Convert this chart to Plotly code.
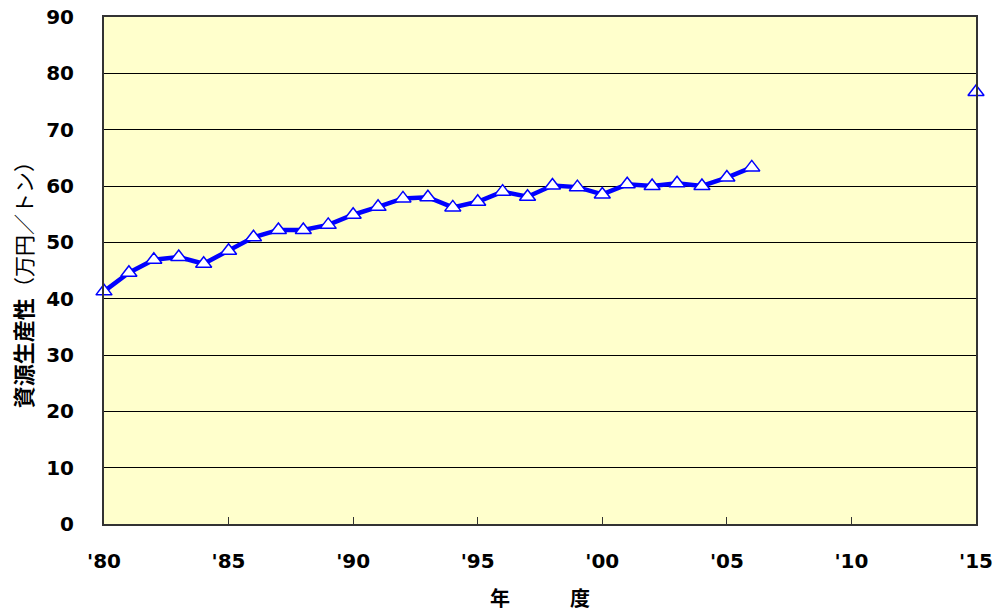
import plotly.graph_objects as go

years = list(range(1980, 2007))
productivity = [41.3, 44.6, 46.9, 47.4, 46.2, 48.5, 50.9, 52.2, 52.2, 53.1,
                54.9, 56.3, 57.8, 58.0, 56.2, 57.2, 59.0, 58.1, 60.1, 59.8,
                58.5, 60.3, 60.0, 60.5, 60.0, 61.5, 63.3]
target_year = [2015]
target_value = [76.7]

x_tickvals = [1980, 1985, 1990, 1995, 2000, 2005, 2010, 2015]
x_ticktext = ["'80", "'85", "'90", "'95", "'00", "'05", "'10", "'15"]

marker_style = dict(symbol="triangle-up", size=14, color="white",
                    line=dict(color="#0000FF", width=1.5))

fig = go.Figure()
fig.add_trace(go.Scatter(
    x=years, y=productivity, mode="lines+markers",
    line=dict(color="#0000FF", width=4.5),
    marker=marker_style, cliponaxis=False, showlegend=False))
fig.add_trace(go.Scatter(
    x=target_year, y=target_value, mode="markers",
    marker=marker_style, cliponaxis=False, showlegend=False))

tickfont = dict(family="DejaVu Sans, sans-serif", size=20,
                color="black", weight="bold")

fig.update_layout(
    width=996, height=612,
    margin=dict(l=104, r=20, t=17, b=88),
    paper_bgcolor="white", plot_bgcolor="#FFFFCC",
    xaxis=dict(range=[1980, 2015], tickvals=x_tickvals, ticktext=x_ticktext,
               ticks="inside", ticklen=7, tickcolor="#333333", tickwidth=1,
               showgrid=False, showline=True, linecolor="#333333", linewidth=2,
               mirror=True, zeroline=False, tickfont=tickfont,
               ticklabelstandoff=18, automargin=False,
               ticklabeloverflow="allow",
               title=dict(text="<b>年　　　度</b>", standoff=22,
                          font=dict(family="Noto Sans CJK JP", size=20,
                                    color="black"))),
    yaxis=dict(range=[0, 90], dtick=10, ticks="outside", ticklen=24,
               tickcolor="rgba(0,0,0,0)", showgrid=True, gridcolor="black",
               gridwidth=1, showline=True, linecolor="#333333", linewidth=2,
               mirror=True, zeroline=False, tickfont=tickfont,
               automargin=False, ticklabeloverflow="allow"),
    annotations=[dict(
        text="<b>資源生産性</b><span style='font-size:21px'>（万円／トン）</span>",
        xref="paper", yref="paper", x=0, y=0.481, xshift=-82,
        xanchor="center", yanchor="middle", textangle=-90, showarrow=False,
        font=dict(family="Noto Sans CJK JP", size=22, color="black"))],
)

fig.write_html("out.html", config={"displayModeBar": False},
               post_script="document.body.style.margin='0';document.body.style.overflow='hidden';")
